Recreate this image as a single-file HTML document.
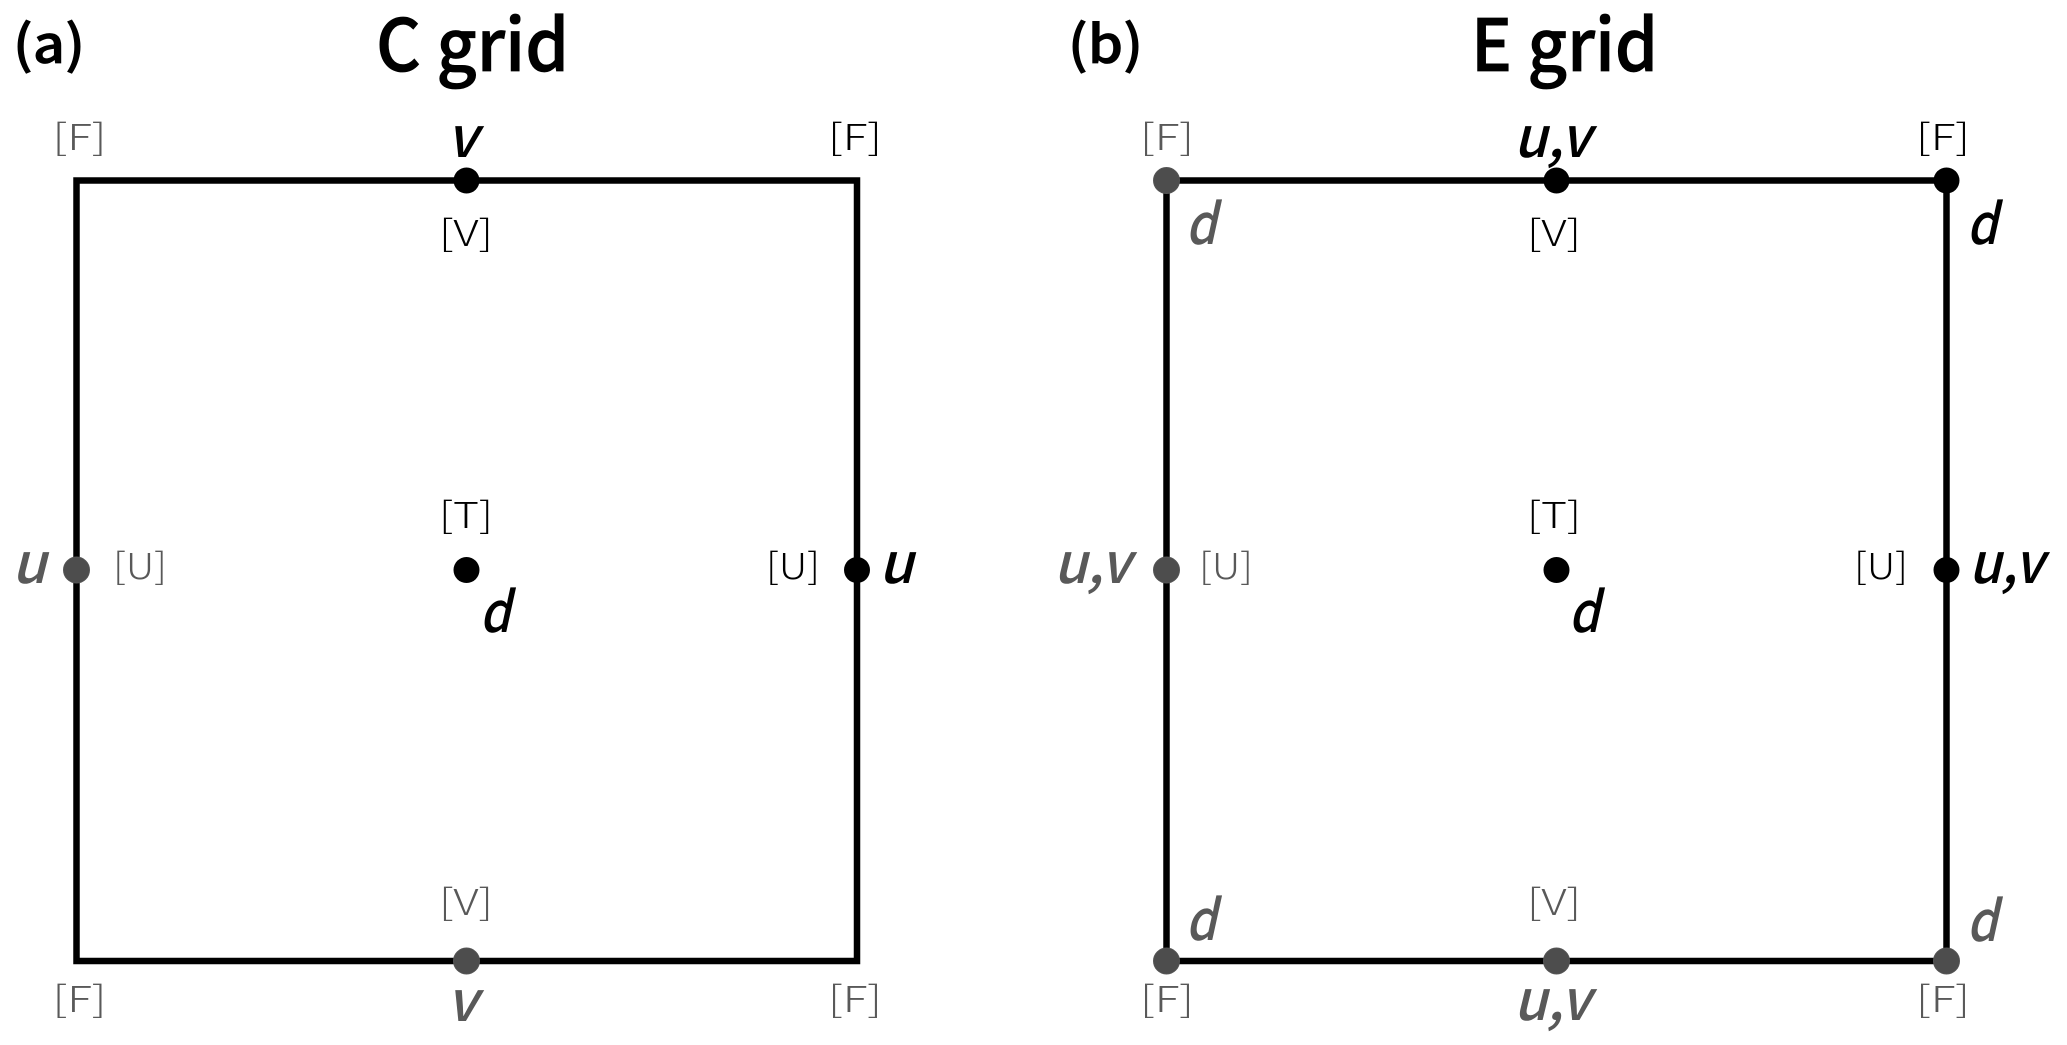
<!DOCTYPE html>
<html><head><meta charset="utf-8"><style>
html,body{margin:0;padding:0;background:#fff}
svg{display:block}
.t{font-family:"Noto Sans CJK SC","Liberation Sans",sans-serif;font-weight:500;text-anchor:middle;stroke:#000;stroke-width:.8}
.b{font-family:"Noto Sans CJK SC","Liberation Sans",sans-serif;font-weight:300;font-size:36px;text-anchor:middle}
.i{font-family:"Noto Sans CJK SC","Liberation Sans",sans-serif;font-weight:500;font-style:italic;font-size:56px;text-anchor:middle}
.g{fill:#595959}.k{fill:#000}
.cg{fill:#4d4d4d;stroke:#555;stroke-width:1}.ck{fill:#000}
</style></head><body>
<svg width="2067" height="1045" viewBox="0 0 2067 1045" xmlns="http://www.w3.org/2000/svg">
<rect width="2067" height="1045" fill="#fff"/>
<rect x="76.5" y="180.5" width="780.5" height="780.5" fill="none" stroke="#000" stroke-width="6.5"/>
<rect x="1166.5" y="180.5" width="780" height="780.5" fill="none" stroke="#000" stroke-width="6.5"/>

<text class="t k" x="49" y="63" font-size="52" textLength="72" lengthAdjust="spacingAndGlyphs">(a)</text>
<text class="t k" x="472.5" y="71" font-size="72" textLength="193" lengthAdjust="spacingAndGlyphs">C grid</text>
<text class="t k" x="1105.5" y="63" font-size="52" textLength="75" lengthAdjust="spacingAndGlyphs">(b)</text>
<text class="t k" x="1564.5" y="71" font-size="72" textLength="187" lengthAdjust="spacingAndGlyphs">E grid</text>

<circle class="ck" cx="466.5" cy="180.5" r="13"/>
<circle class="cg" cx="76.5" cy="570" r="13"/>
<circle class="ck" cx="466.5" cy="570" r="13"/>
<circle class="ck" cx="857" cy="570" r="13"/>
<circle class="cg" cx="466.5" cy="961" r="13"/>

<circle class="cg" cx="1166.5" cy="180.5" r="13"/>
<circle class="ck" cx="1556.5" cy="180.5" r="13"/>
<circle class="ck" cx="1946.5" cy="180.5" r="13"/>
<circle class="cg" cx="1166.5" cy="570" r="13"/>
<circle class="ck" cx="1556.5" cy="570" r="13"/>
<circle class="ck" cx="1946.5" cy="570" r="13"/>
<circle class="cg" cx="1166.5" cy="961" r="13"/>
<circle class="cg" cx="1556.5" cy="961" r="13"/>
<circle class="cg" cx="1946.5" cy="961" r="13"/>

<text class="b g" x="79.5" y="150" textLength="54" lengthAdjust="spacingAndGlyphs">[F]</text>
<text class="b k" x="855" y="150" textLength="54" lengthAdjust="spacingAndGlyphs">[F]</text>
<text class="b k" x="466" y="246" textLength="54" lengthAdjust="spacingAndGlyphs">[V]</text>
<text class="b k" x="466" y="528" textLength="54" lengthAdjust="spacingAndGlyphs">[T]</text>
<text class="b g" x="140" y="579" textLength="54" lengthAdjust="spacingAndGlyphs">[U]</text>
<text class="b k" x="793" y="579" textLength="54" lengthAdjust="spacingAndGlyphs">[U]</text>
<text class="b g" x="466" y="915" textLength="54" lengthAdjust="spacingAndGlyphs">[V]</text>
<text class="b g" x="79.5" y="1012" textLength="54" lengthAdjust="spacingAndGlyphs">[F]</text>
<text class="b g" x="855" y="1012" textLength="54" lengthAdjust="spacingAndGlyphs">[F]</text>

<text class="i k" x="462" y="157">v</text>
<text class="i g" x="29" y="583">u</text>
<text class="i k" x="495" y="632" textLength="31" lengthAdjust="spacingAndGlyphs">d</text>
<text class="i k" x="896" y="583">u</text>
<text class="i g" x="462" y="1021">v</text>

<text class="b g" x="1167" y="150" textLength="54" lengthAdjust="spacingAndGlyphs">[F]</text>
<text class="b k" x="1943" y="150" textLength="54" lengthAdjust="spacingAndGlyphs">[F]</text>
<text class="b k" x="1554" y="246" textLength="54" lengthAdjust="spacingAndGlyphs">[V]</text>
<text class="b k" x="1554" y="528" textLength="54" lengthAdjust="spacingAndGlyphs">[T]</text>
<text class="b g" x="1226" y="579" textLength="54" lengthAdjust="spacingAndGlyphs">[U]</text>
<text class="b k" x="1881" y="579" textLength="54" lengthAdjust="spacingAndGlyphs">[U]</text>
<text class="b g" x="1554" y="915" textLength="54" lengthAdjust="spacingAndGlyphs">[V]</text>
<text class="b g" x="1167" y="1012" textLength="54" lengthAdjust="spacingAndGlyphs">[F]</text>
<text class="b g" x="1943" y="1012" textLength="54" lengthAdjust="spacingAndGlyphs">[F]</text>

<text class="i k" x="1552" y="157" textLength="77" lengthAdjust="spacingAndGlyphs">u,v</text>
<text class="i g" x="1201" y="244" textLength="31" lengthAdjust="spacingAndGlyphs">d</text>
<text class="i k" x="1982" y="244" textLength="31" lengthAdjust="spacingAndGlyphs">d</text>
<text class="i g" x="1092" y="583" textLength="77" lengthAdjust="spacingAndGlyphs">u,v</text>
<text class="i k" x="1584" y="632" textLength="31" lengthAdjust="spacingAndGlyphs">d</text>
<text class="i k" x="2006" y="583" textLength="75" lengthAdjust="spacingAndGlyphs">u,v</text>
<text class="i g" x="1201" y="940" textLength="31" lengthAdjust="spacingAndGlyphs">d</text>
<text class="i g" x="1982" y="941" textLength="31" lengthAdjust="spacingAndGlyphs">d</text>
<text class="i g" x="1552" y="1020" textLength="77" lengthAdjust="spacingAndGlyphs">u,v</text>
</svg>
</body></html>
